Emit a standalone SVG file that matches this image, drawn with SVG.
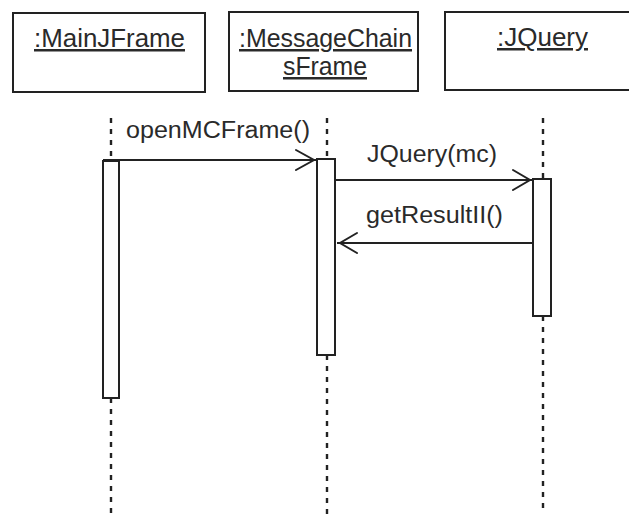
<svg xmlns="http://www.w3.org/2000/svg" width="629" height="514" viewBox="0 0 629 514">
  <style>
    .obj { fill: #fff; stroke: #222; stroke-width: 2; }
    .name { font-family: "Liberation Sans", Arial, sans-serif; font-size: 25px; fill: #2a2a2a; text-decoration: underline; }
    .life { stroke: #222; stroke-width: 2.4; stroke-dasharray: 5 6; fill: none; }
    .act { fill: #fff; stroke: #222; stroke-width: 2; }
    .msg { stroke: #222; stroke-width: 2; fill: none; }
    .head { stroke: #222; stroke-width: 2; fill: none; stroke-linecap: round; }
    .lbl { font-family: "Liberation Sans", Arial, sans-serif; font-size: 23px; fill: #2a2a2a; }
  </style>
  <rect width="629" height="514" fill="#fff"/>

  <!-- object: MainJFrame -->
  <g id="mainJFrame">
    <rect class="obj" x="13" y="13" width="192" height="79"/>
    <text class="name" x="34" y="47" textLength="151" lengthAdjust="spacingAndGlyphs">:MainJFrame</text>
    <line class="life" x1="111" y1="118" x2="111" y2="161"/>
    <line class="life" x1="111" y1="398" x2="111" y2="514"/>
    <rect class="act" x="103" y="161" width="16" height="237"/>
  </g>

  <!-- object: MessageChainsFrame -->
  <g id="messageChainsFrame">
    <rect class="obj" x="229" y="12" width="189" height="79"/>
    <text class="name" x="239" y="47" textLength="173" lengthAdjust="spacingAndGlyphs">:MessageChain</text>
    <text class="name" x="283" y="75" textLength="84" lengthAdjust="spacingAndGlyphs">sFrame</text>
    <line class="life" x1="327" y1="118" x2="327" y2="159"/>
    <line class="life" x1="327" y1="355" x2="327" y2="514"/>
    <rect class="act" x="317" y="159" width="18" height="196"/>
  </g>

  <!-- object: JQuery -->
  <g id="jQuery">
    <rect class="obj" x="445" y="12" width="200" height="78"/>
    <text class="name" x="497" y="46" textLength="91" lengthAdjust="spacingAndGlyphs">:JQuery</text>
    <line class="life" x1="543" y1="118" x2="543" y2="179"/>
    <line class="life" x1="543" y1="316" x2="543" y2="514"/>
    <rect class="act" x="533" y="179" width="18" height="137"/>
  </g>

  <!-- messages -->
  <g id="connectors">
    <line class="msg" x1="103" y1="160" x2="316" y2="160"/>
    <polyline class="head" points="296,150 314,160 296,170"/>
    <text class="lbl" x="126" y="138" font-size="21" textLength="184" lengthAdjust="spacingAndGlyphs">openMCFrame()</text>

    <line class="msg" x1="335" y1="180" x2="532" y2="180"/>
    <polyline class="head" points="513,170 530,180 513,190"/>
    <text class="lbl" x="367" y="162" textLength="130" lengthAdjust="spacingAndGlyphs">JQuery(mc)</text>

    <line class="msg" x1="533" y1="243" x2="337" y2="243"/>
    <polyline class="head" points="357,233 340,243 357,253"/>
    <text class="lbl" x="366" y="223" textLength="137" lengthAdjust="spacingAndGlyphs">getResultII()</text>
  </g>
</svg>
